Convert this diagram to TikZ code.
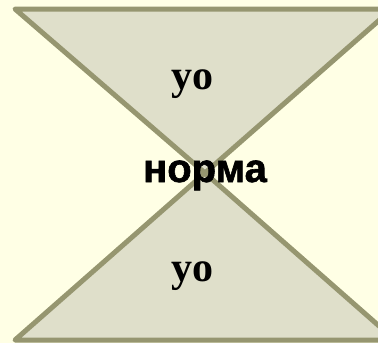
\documentclass[tikz,border=0pt]{standalone}
\usepackage{fontspec}
\setmainfont{Liberation Serif}
\newfontfamily\normafont[BoldFeatures={FakeBold=1.5}]{Liberation Sans}
\usepackage{xcolor}
\usepackage{tikz}
\usetikzlibrary{positioning,calc}
\definecolor{paper}{RGB}{255,255,229}
\definecolor{glass}{RGB}{223,223,202}
\definecolor{rim}{RGB}{150,150,112}

\begin{document}
\begin{tikzpicture}[x=1pt,y=-1pt,
    half/.style={draw=rim,fill=glass,line width=5pt,line join=round},
    label/.style={inner sep=0pt,anchor=base,font=\bfseries\fontsize{42}{46}\selectfont}]
  \fill[paper] (0,0) rectangle (378,343);
  \useasboundingbox (0,0) rectangle (378,343);
  \coordinate (tl) at (15,9);
  \coordinate (tr) at (392,9);
  \coordinate (mid) at (205,173);
  \coordinate (bl) at (15,340);
  \coordinate (br) at (395,340);
  \draw[half] (tl) -- (tr) -- (mid) -- cycle;
  \draw[half] (bl) -- (br) -- (mid) -- cycle;
  \node[label] (topyo) at (192,89) {yo};
  \node[label] (botyo) at (192,281) {yo};
  \node[label,font=\normafont\bfseries\fontsize{40}{44}\selectfont] (norma) at (205,182) {норма};
\end{tikzpicture}
\end{document}
